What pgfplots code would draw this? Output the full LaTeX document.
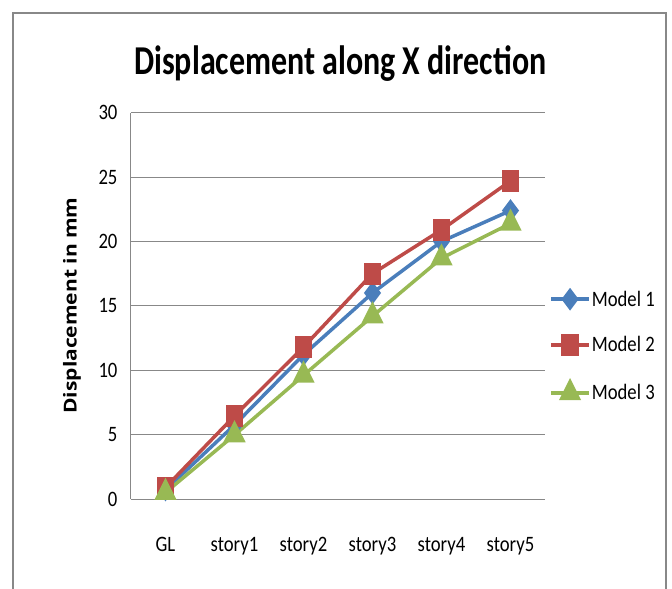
\documentclass[border=0pt]{standalone}
\usepackage{fontspec}
\setmainfont{Carlito}[FakeStretch=0.85]
\newfontfamily\titlefont{Carlito}[FakeStretch=0.78]
\newfontfamily\labelfont{Open Sans}
\usepackage{graphicx}
\usepackage{pgfplots}
\pgfplotsset{compat=1.18}
\definecolor{mblue}{HTML}{4A7EBB}
\definecolor{mred}{HTML}{BE4B48}
\definecolor{mgreen}{HTML}{98B954}
\definecolor{gridgray}{HTML}{888888}
\begin{document}
\begin{tikzpicture}[x=1pt,y=1pt]
\useasboundingbox (-131,-90) rectangle (541,499);
\draw[gridgray, line width=1.5pt] (-118,-120) -- (-118,486) -- (535,486) -- (535,-120);
\begin{axis}[
  at={(0,0)}, anchor=south west,
  scale only axis, width=414pt, height=386.3pt,
  xmin=-0.5, xmax=5.5, ymin=0, ymax=30,
  xtick={0,1,2,3,4,5},
  xticklabels={GL,story1,story2,story3,story4,story5},
  ytick={0,5,10,15,20,25,30},
  axis lines*=left,
  axis line style={gridgray, line width=1pt},
  ymajorgrids, grid style={gridgray, line width=1pt},
  major tick length=0pt,
  tick label style={font=\fontsize{22}{24}\selectfont, text=black},
  /pgf/number format/assume math mode=true,
  yticklabel style={anchor=east, xshift=-10pt},
  xticklabel style={anchor=base, yshift=-52pt},
  clip=false,
  legend style={draw=none, fill=none, at={(rel axis cs:1.01,0.396)}, anchor=west,
    font=\fontsize{22}{24}\selectfont, row sep=28pt, inner xsep=0pt,
    nodes={inner xsep=1pt, inner ysep=0pt}},
  legend cell align=left,
  legend image code/.code={\draw[mark repeat=2,mark phase=2] plot coordinates {(0pt,0pt) (19pt,0pt) (38pt,0pt)};},
]
\addplot[mblue, line width=3.5pt, mark=diamond*, mark size=8.5pt, mark options={solid}]
  coordinates {(0,0.7) (1,5.75) (2,11.2) (3,16.0) (4,20.0) (5,22.4)};
\addlegendentry{Model 1}
\addplot[mred, line width=3.5pt, mark=square*, mark size=7pt, mark options={solid, yscale=1.3}]
  coordinates {(0,0.9) (1,6.45) (2,11.8) (3,17.5) (4,20.9) (5,24.7)};
\addlegendentry{Model 2}
\addplot[mgreen, line width=3.5pt, mark=triangle*, mark size=9.6pt, mark options={solid, yscale=1.15}]
  coordinates {(0,0.5) (1,4.97) (2,9.6) (3,14.2) (4,18.7) (5,21.4)};
\addlegendentry{Model 3}
\end{axis}
\node[anchor=base, font=\titlefont\bfseries\fontsize{41}{44}\selectfont] at (209.3,424.7) {Displacement along X direction};
\node[rotate=90, font=\labelfont\bfseries\fontsize{21}{23}\selectfont] at (-59,193.5) {\scalebox{1}[0.85]{Displacement in mm}};
\end{tikzpicture}
\end{document}
